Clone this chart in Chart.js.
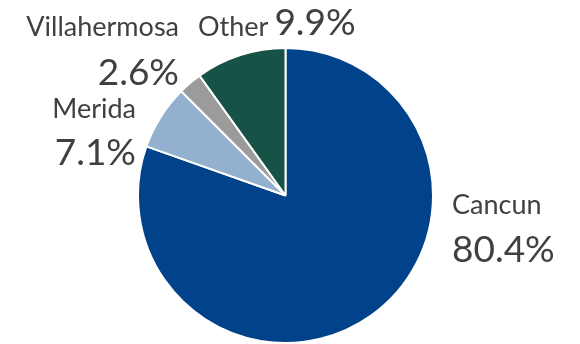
<!DOCTYPE html>
<html>
<head>
<meta charset="utf-8">
<script src="https://cdn.jsdelivr.net/npm/chart.js@4/dist/chart.umd.min.js"></script>
<style>
  html, body { margin: 0; padding: 0; background: #ffffff; }
  #wrap { width: 580px; height: 344px; position: relative; }
</style>
</head>
<body>
<div id="wrap"><canvas id="c" width="580" height="344"></canvas></div>
<script>
// Share of passengers by airport
const cities = ['Cancun', 'Merida', 'Villahermosa', 'Other'];
const shares = [80.4, 7.1, 2.6, 9.9];
const sliceColors = ['#00438A', '#93B1CF', '#9B9B9B', '#175246'];

// Where each city's name / percentage goes
const labelSpots = {
  'Cancun':       { x: 452, nameY: 214, pctY: 262, align: 'left' },
  'Merida':       { x: 136, nameY: 118, pctY: 165, align: 'right' },
  'Villahermosa': { x: 179, nameY: 36,  pctY: 85,  align: 'right' },
  'Other':        { x: 198, nameY: 36,  pctY: 35,  align: 'left', inline: true }
};

const FONT = 'Lato, "Open Sans", sans-serif';
const NAME_SIZE = 27;
const PCT_SIZE = 37;

const sliceLabels = {
  id: 'sliceLabels',
  afterDraw(chart) {
    const ctx = chart.ctx;
    const ds = chart.data.datasets[0];
    ctx.save();
    ctx.fillStyle = '#404040';
    ctx.textBaseline = 'alphabetic';
    chart.data.labels.forEach((name, i) => {
      const spot = labelSpots[name];
      const pct = ds.data[i].toFixed(1) + '%';
      ctx.textAlign = spot.align;
      ctx.font = NAME_SIZE + 'px ' + FONT;
      ctx.fillText(name, spot.x, spot.nameY);
      if (spot.inline) {
        const w = ctx.measureText(name).width;
        ctx.font = PCT_SIZE + 'px ' + FONT;
        ctx.textAlign = 'left';
        ctx.fillText(pct, spot.x + w + 6, spot.pctY);
      } else {
        ctx.font = PCT_SIZE + 'px ' + FONT;
        ctx.fillText(pct, spot.x, spot.pctY);
      }
    });
    ctx.restore();
  }
};

new Chart(document.getElementById('c'), {
  type: 'pie',
  data: {
    labels: cities,
    datasets: [{
      data: shares,
      backgroundColor: sliceColors,
      borderColor: '#ffffff',
      borderWidth: 2
    }]
  },
  options: {
    responsive: false,
    animation: false,
    rotation: 0,
    layout: { padding: { left: 0, right: 9, top: 47, bottom: 0 } },
    plugins: {
      legend: { display: false },
      tooltip: { enabled: false },
      title: { display: false }
    }
  },
  plugins: [sliceLabels]
});
</script>
</body>
</html>
